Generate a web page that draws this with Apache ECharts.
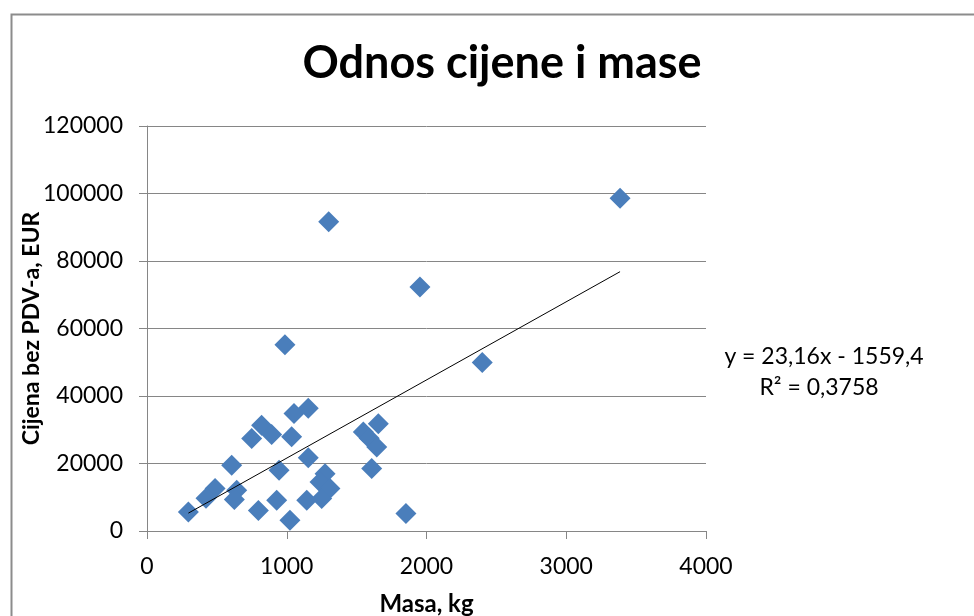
<!DOCTYPE html>
<html>
<head>
<meta charset="utf-8">
<script src="https://cdn.jsdelivr.net/npm/echarts@6/dist/echarts.min.js"></script>
<style>
html,body{margin:0;padding:0;background:#fff;}
#c{width:974px;height:616px;}
</style>
</head>
<body>
<div id="c"></div>
<script>
// Data
const masa = [3385, 1300, 1953, 2399, 987, 1154, 1052, 820, 749, 892, 1035, 606, 1154, 945, 1274, 1238, 1309, 1250, 1143, 928, 1023, 797, 296, 642, 625, 487, 422, 1548, 1590, 1655, 1644, 1608, 1853];
const cijena = [98600, 91600, 72300, 49900, 55200, 36400, 34800, 31300, 27400, 28600, 27900, 19500, 21700, 18000, 17000, 14500, 12600, 9600, 9100, 9100, 3200, 6100, 5600, 12100, 9300, 12600, 9700, 29300, 27500, 31800, 24900, 18500, 5200];
const slope = 23.16;
const intercept = -1559.4;
const equationText = 'y = 23,16x - 1559,4';
const r2Text = 'R² = 0,3758';
const xTicks = [0, 1000, 2000, 3000, 4000];
const yTicks = [0, 20000, 40000, 60000, 80000, 100000, 120000];

const points = masa.map((m, i) => [m, cijena[i]]);
const xMin = Math.min(...masa), xMax = Math.max(...masa);
const trend = [[xMin, slope * xMin + intercept], [xMax, slope * xMax + intercept]];

const font = 'Lato, "Open Sans", sans-serif';
const chart = echarts.init(document.getElementById('c'), null, {renderer: 'canvas'});
chart.setOption({
  backgroundColor: '#fff',
  animation: false,
  title: {
    text: 'Odnos cijene i mase',
    left: 497, top: 36, textAlign: 'center',
    textStyle: {fontFamily: font, fontSize: 45, fontWeight: 'bold', color: '#000'}
  },
  grid: {left: 147, right: 268, top: 126, bottom: 85, containLabel: false, outerBoundsMode: 'none'},
  xAxis: {
    type: 'value', min: xTicks[0], max: xTicks[xTicks.length - 1], interval: 1000,
    name: 'Masa, kg', nameLocation: 'middle', nameGap: 61, nameMoveOverlap: false,
    nameTextStyle: {fontFamily: font, fontSize: 24, fontWeight: 'bold', color: '#000'},
    axisLine: {show: true, lineStyle: {color: '#868686', width: 1}},
    axisTick: {show: true, length: 8, lineStyle: {color: '#868686'}},
    axisLabel: {fontFamily: font, fontSize: 23, color: '#000', margin: 24, formatter: v => String(v)},
    splitLine: {show: false}
  },
  yAxis: {
    type: 'value', min: yTicks[0], max: yTicks[yTicks.length - 1], interval: 20000,
    name: 'Cijena bez PDV-a, EUR', nameLocation: 'middle', nameGap: 104, nameMoveOverlap: false,
    nameTextStyle: {fontFamily: font, fontSize: 23, fontWeight: 'bold', color: '#000'},
    axisLine: {show: true, lineStyle: {color: '#868686', width: 1}},
    axisTick: {show: true, length: 8, lineStyle: {color: '#868686'}},
    axisLabel: {fontFamily: font, fontSize: 23, color: '#000', margin: 24, formatter: v => String(v)},
    splitLine: {show: true, lineStyle: {color: '#868686', width: 1}}
  },
  series: [
    {
      type: 'scatter', data: points, symbol: 'diamond', symbolSize: 21,
      itemStyle: {color: '#4a7ebb', opacity: 1}, z: 3
    },
    {
      type: 'line', data: trend, symbol: 'none', silent: true,
      lineStyle: {color: '#000', width: 1}, z: 4
    }
  ],
  graphic: [
    {type: 'rect', left: 9, top: 12, shape: {x: 0, y: 0, width: 1000, height: 700},
     style: {fill: 'none', stroke: '#8c8c8c', lineWidth: 2}, z: 0, silent: true},
    {type: 'text', x: 824, y: 357, style: {text: equationText, fontFamily: font, fontSize: 23, fill: '#000', align: 'center', verticalAlign: 'middle'}},
    {type: 'text', x: 819, y: 388, style: {text: r2Text, fontFamily: font, fontSize: 23, fill: '#000', align: 'center', verticalAlign: 'middle'}}
  ]
});
</script>
</body>
</html>
